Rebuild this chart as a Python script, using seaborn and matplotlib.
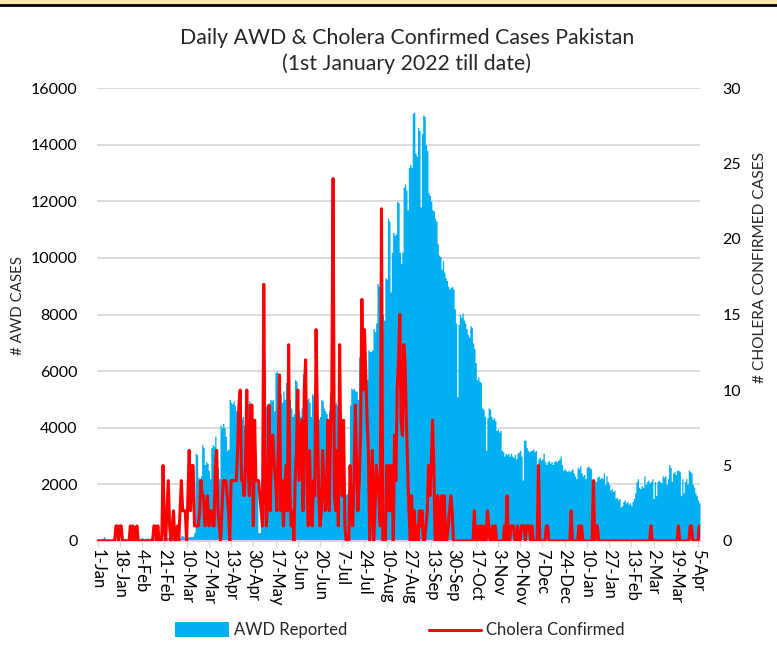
import numpy as np
import pandas as pd
import seaborn as sns
import matplotlib.pyplot as plt
from matplotlib.patches import Rectangle
from matplotlib.lines import Line2D

# daily values, day 0 = 1-Jan-2022
awd_cases = [
    60, 80, 70, 90, 100, 150, 90, 70, 80, 60,
    70, 90, 80, 60, 70, 80, 90, 70, 60, 80,
    90, 100, 80, 70, 90, 100, 80, 70, 90, 100,
    110, 90, 80, 100, 120, 90, 80, 100, 110, 90,
    100, 120, 110, 90, 100, 110, 130, 100, 90, 110,
    120, 100, 110, 130, 120, 100, 110, 130, 140, 120,
    130, 150, 140, 120, 200, 180, 150, 140, 160, 150,
    140, 160, 150, 170, 300, 3100, 3050, 2250, 2200, 2300,
    3400, 3300, 2700, 2800, 2750, 2500, 2200, 3300, 3400, 3350,
    3700, 2900, 2600, 2200, 4100, 4000, 4150, 4000, 3700, 3200,
    3250, 5000, 4900, 4850, 4950, 4800, 4600, 4700, 4800, 4500,
    4300, 4400, 4100, 3900, 4900, 4850, 4950, 4800, 4200, 3600,
    3000, 2600, 2000, 300, 300, 2100, 3500, 4200, 4800, 4750,
    4500, 4300, 5000, 4950, 5000, 4600, 5950, 6000, 5900, 5800,
    5200, 4900, 5300, 5000, 5600, 5550, 5600, 5000, 4700, 4400,
    4500, 5700, 5650, 5000, 4600, 4400, 4700, 5900, 5800, 4900,
    5000, 5050, 4900, 4400, 5200, 5150, 5100, 4600, 4400, 4300,
    4400, 5000, 4950, 4700, 4600, 4500, 4200, 4600, 4550, 4650,
    4900, 4850, 4900, 4800, 4400, 4600, 4500, 4300, 3200, 1700,
    1650, 1700, 1800, 4800, 5400, 5350, 5400, 5300, 5300, 5000,
    6500, 6450, 5900, 6200, 6000, 5800, 5700, 6750, 6700, 6700,
    6750, 7500, 7400, 7700, 9100, 9000, 8700, 8400, 8000, 7800,
    9300, 9250, 11400, 11300, 8800, 10200, 10900, 10800, 10850, 12000,
    11950, 10200, 9800, 10200, 12500, 12600, 12400, 11700, 13200, 13300,
    13200, 15100, 15150, 13700, 13600, 14600, 14500, 11800, 14400, 15050,
    15000, 14000, 13800, 12300, 12200, 12000, 11700, 11650, 11400, 11300,
    10500, 10100, 10050, 9600, 9900, 9500, 9300, 9200, 9000, 8900,
    8950, 9000, 8900, 8200, 7700, 5100, 7650, 8000, 7900, 8050,
    7800, 7700, 7500, 7300, 7200, 7600, 7550, 7000, 6800, 6300,
    5700, 5800, 5650, 5600, 4700, 4650, 4400, 3200, 4350, 4700,
    4650, 4400, 4300, 4350, 4250, 3900, 3950, 3850, 3900, 3200,
    3150, 3000, 3100, 3050, 3100, 3000, 3100, 3000, 2950, 3050,
    2900, 3100, 3150, 3200, 3000, 2150, 3550, 3570, 3300, 3200,
    3150, 3200, 3200, 3250, 3150, 3200, 2700, 2900, 2950, 2850,
    2900, 3100, 2800, 2700, 2800, 2850, 2750, 2800, 2700, 2800,
    2850, 2800, 2850, 2900, 3000, 2700, 2500, 2550, 2500, 2450,
    2500, 2450, 2500, 2550, 2400, 2300, 2200, 2600, 2550, 2650,
    2400, 2300, 2350, 2200, 2600, 2650, 2600, 2550, 2150, 2200,
    2150, 2100, 2250, 2300, 2200, 2250, 2200, 2400, 2000, 2300,
    2100, 2000, 1800, 1850, 1750, 1800, 1500, 1550, 1450, 1500,
    1200, 1250, 1400, 1450, 1350, 1400, 1300, 1350, 1250, 1400,
    1500, 1700, 2100, 2200, 1900, 1850, 1950, 1900, 2300, 2000,
    2100, 2150, 2050, 2100, 2200, 1500, 2100, 1600, 2100, 2150,
    2100, 2050, 2300, 2250, 2300, 2000, 2200, 2700, 2600, 2100,
    2400, 2450, 2350, 2500, 2500, 2450, 1600, 2200, 1700, 2100,
    2200, 2000, 2500, 2450, 2400, 2000, 1900, 1700, 1600, 1450,
    1350,
]

cholera_cases = [
    0, 0, 0, 0, 0, 0, 0, 0, 0, 0,
    0, 0, 0, 0, 1, 1, 0, 1, 1, 0,
    0, 0, 0, 0, 0, 1, 0, 1, 0, 0,
    1, 0, 0, 0, 0, 0, 0, 0, 0, 0,
    0, 0, 0, 1, 1, 0, 1, 0, 0, 0,
    5, 1, 0, 2, 4, 1, 0, 1, 2, 0,
    0, 1, 0, 2, 4, 2, 2, 2, 0, 3,
    6, 2, 5, 5, 1, 1, 1, 1, 2, 4,
    3, 3, 1, 2, 3, 1, 2, 2, 1, 1,
    5, 6, 2, 1, 0, 2, 4, 4, 4, 3,
    2, 0, 4, 4, 4, 4, 4, 6, 9, 10,
    4, 4, 3, 5, 10, 5, 3, 9, 9, 1,
    8, 4, 4, 4, 3, 2, 1, 17, 4, 1,
    3, 9, 2, 7, 7, 5, 4, 2, 6, 11,
    2, 4, 1, 3, 5, 2, 13, 3, 1, 2,
    0, 4, 6, 10, 4, 6, 8, 2, 10, 12,
    4, 1, 6, 2, 1, 4, 3, 14, 8, 3,
    1, 2, 6, 4, 2, 3, 8, 2, 7, 10,
    24, 3, 2, 6, 1, 13, 5, 3, 8, 1,
    0, 0, 0, 5, 2, 1, 4, 9, 5, 2,
    4, 7, 16, 10, 14, 11, 8, 6, 0, 3,
    6, 0, 2, 5, 4, 3, 1, 22, 0, 0,
    0, 5, 2, 5, 2, 5, 0, 7, 4, 10,
    12, 15, 8, 7, 13, 12, 8, 5, 2, 0,
    3, 0, 2, 0, 1, 0, 2, 1, 2, 0,
    0, 1, 2, 5, 3, 5, 8, 5, 0, 0,
    3, 0, 2, 3, 0, 3, 0, 0, 1, 2,
    3, 2, 0, 0, 0, 0, 0, 0, 0, 0,
    0, 0, 0, 0, 0, 0, 0, 0, 2, 0,
    0, 1, 0, 1, 0, 1, 0, 0, 2, 1,
    0, 0, 1, 0, 1, 0, 0, 0, 0, 0,
    0, 1, 0, 3, 0, 0, 1, 1, 1, 0,
    0, 1, 0, 0, 1, 1, 1, 0, 1, 1,
    1, 0, 1, 0, 0, 0, 0, 5, 0, 0,
    0, 0, 0, 1, 1, 0, 0, 0, 0, 0,
    0, 0, 0, 0, 0, 0, 0, 0, 0, 0,
    0, 0, 2, 0, 0, 0, 0, 0, 1, 0,
    1, 0, 0, 0, 0, 0, 0, 0, 0, 4,
    0, 1, 1, 0, 0, 0, 0, 0, 0, 0,
    0, 0, 0, 0, 0, 0, 0, 0, 0, 0,
    0, 0, 0, 0, 0, 0, 0, 0, 0, 0,
    0, 0, 0, 0, 0, 0, 0, 0, 0, 0,
    0, 0, 0, 1, 0, 0, 0, 0, 0, 0,
    0, 0, 0, 0, 0, 0, 0, 0, 0, 0,
    0, 0, 0, 0, 1, 0, 0, 0, 0, 0,
    0, 0, 0, 1, 1, 0, 0, 0, 0, 0,
    1,
]

tick_labels = ["1-Jan", "18-Jan", "4-Feb", "21-Feb", "10-Mar", "27-Mar", "13-Apr",
               "30-Apr", "17-May", "3-Jun", "20-Jun", "7-Jul", "24-Jul", "10-Aug",
               "27-Aug", "13-Sep", "30-Sep", "17-Oct", "3-Nov", "20-Nov", "7-Dec",
               "24-Dec", "10-Jan", "27-Jan", "13-Feb", "2-Mar", "19-Mar", "5-Apr"]

days = np.arange(len(awd_cases))
df = pd.DataFrame({"day": days, "awd": awd_cases, "cholera": cholera_cases})

sns.set_theme(style="white")
plt.rcParams["font.family"] = ["Lato", "DejaVu Sans"]

W, H = 777, 656
fig = plt.figure(figsize=(W / 100, H / 100), dpi=100)
ax = fig.add_axes([97 / W, 1 - 541 / H, 603 / W, 453 / H])

# AWD as touching columns
edges = np.append(days - 0.5, days[-1] + 0.5)
ax.fill_between(edges, np.append(df["awd"], df["awd"].iloc[-1]), step="post",
                color="#00B0F0", linewidth=0)
ax.set_xlim(-0.5, len(days) - 0.5)
ax.set_ylim(0, 16000)
ax.set_yticks(range(0, 16001, 2000))
ax.grid(axis="y", color="#D9D9D9", linewidth=1.3)
ax.set_axisbelow(True)
ax.set_xticks(days[::17])
ax.set_xticklabels(tick_labels, rotation=-90, fontsize=12, color="black")
ax.tick_params(axis="x", bottom=True, length=4, width=1, color="#D9D9D9", pad=2)
ax.tick_params(axis="y", labelsize=11.5, labelcolor="black", pad=14, length=0)
for s in ["left", "right", "top"]:
    ax.spines[s].set_visible(False)
ax.spines["bottom"].set_color("#D9D9D9")
ax.spines["bottom"].set_linewidth(1.3)
ax.set_xlabel("")
ax.set_ylabel("")

ax2 = ax.twinx()
sns.lineplot(data=df, x="day", y="cholera", ax=ax2, color="#FF0000", linewidth=2.2)
ax2.set_ylim(0, 30)
ax2.set_yticks(range(0, 31, 5))
ax2.tick_params(axis="y", labelsize=11.5, labelcolor="black", pad=16, length=0)
for s in ax2.spines.values():
    s.set_visible(False)
ax2.set_xlabel("")
ax2.set_ylabel("")

fig.text(407 / W, 1 - 38 / H, "Daily AWD & Cholera Confirmed Cases Pakistan",
         ha="center", va="center", fontsize=15.3)
fig.text(407 / W, 1 - 64 / H, "(1st January 2022 till date)",
         ha="center", va="center", fontsize=15.3)
fig.text(18 / W, 1 - 306 / H, "# AWD CASES", rotation=90, ha="center", va="center", fontsize=10.8)
fig.text(760 / W, 1 - 267 / H, "# CHOLERA CONFIRMED CASES", rotation=90,
         ha="center", va="center", fontsize=11.2)

# legend drawn by hand
ly = 1 - 630 / H
fig.add_artist(Rectangle((175 / W, 1 - 637 / H), 54 / W, 15 / H, transform=fig.transFigure,
                         color="#00B0F0", linewidth=0))
fig.text(234 / W, ly, "AWD Reported", ha="left", va="center", fontsize=12)
fig.add_artist(Line2D([429 / W, 481 / W], [ly, ly], transform=fig.transFigure,
                      color="#FF0000", linewidth=2.2))
fig.text(486 / W, ly, "Cholera Confirmed", ha="left", va="center", fontsize=12)

# slide strip at the top
fig.add_artist(Rectangle((0, 1 - 4 / H), 1, 4 / H, transform=fig.transFigure,
                         color="#FCE7A6", linewidth=0))
fig.add_artist(Line2D([0, 1], [1 - 5 / H, 1 - 5 / H], transform=fig.transFigure,
                      color="black", linewidth=2))

fig.savefig("out.png", dpi=100)
